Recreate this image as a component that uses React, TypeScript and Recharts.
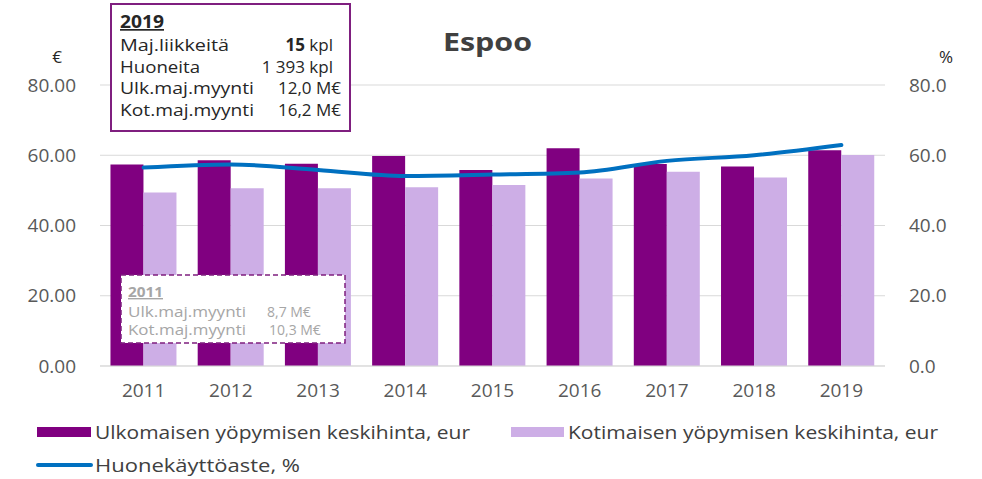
import React from 'react';
import { ComposedChart, Bar, Line, XAxis, YAxis, CartesianGrid } from 'recharts';

const years = ['2011', '2012', '2013', '2014', '2015', '2016', '2017', '2018', '2019'];
const foreignPrice = [57.4, 58.6, 57.6, 59.8, 55.8, 62.0, 57.5, 56.8, 61.4];
const domesticPrice = [49.4, 50.6, 50.6, 50.9, 51.5, 53.4, 55.3, 53.7, 60.1];
const occupancy = [56.5, 57.4, 55.8, 54.1, 54.5, 55.1, 58.4, 60.0, 62.9];
const leftTicks = [0, 20, 40, 60, 80];
const rightTicks = [0, 20, 40, 60, 80];

const seriesNames = [
  'Ulkomaisen yöpymisen keskihinta, eur',
  'Kotimaisen yöpymisen keskihinta, eur',
  'Huonekäyttöaste, %',
];

const box2019Labels = ['Maj.liikkeitä', 'Huoneita', 'Ulk.maj.myynti', 'Kot.maj.myynti'];
const box2019LabelWidths = [109, 80, 134, 134];
const box2019Values = [
  { bold: '15', rest: ' kpl' },
  { bold: '', rest: '1 393 kpl' },
  { bold: '', rest: '12,0 M€' },
  { bold: '', rest: '16,2 M€' },
];
const box2019ValueRight = [333, 333, 341, 341];
const box2011Labels = ['Ulk.maj.myynti', 'Kot.maj.myynti'];
const box2011Values = ['8,7 M€', '10,3 M€'];
const box2011ValueX = [267, 269];

const data = years.map((y, i) => ({
  year: y,
  foreign: foreignPrice[i],
  domestic: domesticPrice[i],
  occ: occupancy[i],
}));

const DARK = '#800080';
const LIGHT = '#CDAEE6';
const BLUE = '#0070C0';
const FONT = '"Open Sans", Lato, sans-serif';
const TICK = '#595959';

export default function App() {
  return (
    <div style={{ position: 'absolute', left: 0, top: 0, width: 982, height: 479, background: '#fff', fontFamily: FONT }}>
      <ComposedChart
        width={982}
        height={479}
        data={data}
        margin={{ top: 85, right: 0, bottom: 73, left: 0 }}
        barCategoryGap="12%"
        barGap={0}
      >
        <CartesianGrid vertical={false} stroke="#d9d9d9" yAxisId="left" />
        <XAxis
          dataKey="year"
          axisLine={{ stroke: '#d9d9d9' }}
          tickLine={false}
          tickSize={8}
          tickMargin={10}
          height={40}
          tick={{ fill: TICK, fontSize: 19, fontFamily: FONT }}
        />
        <YAxis
          yAxisId="left"
          orientation="left"
          width={100}
          domain={[0, 80]}
          ticks={leftTicks}
          axisLine={false}
          tickLine={false}
          tickSize={8}
          tickMargin={16}
          tickFormatter={(v: number) => v.toFixed(2)}
          tick={{ fill: TICK, fontSize: 19, fontFamily: FONT }}
        />
        <YAxis
          yAxisId="right"
          orientation="right"
          width={97}
          domain={[0, 80]}
          ticks={rightTicks}
          axisLine={false}
          tickLine={false}
          tickSize={8}
          tickMargin={16}
          tickFormatter={(v: number) => v.toFixed(1)}
          tick={{ fill: TICK, fontSize: 19, fontFamily: FONT }}
        />
        <Bar yAxisId="left" dataKey="foreign" name={seriesNames[0]} fill={DARK} isAnimationActive={false} />
        <Bar yAxisId="left" dataKey="domestic" name={seriesNames[1]} fill={LIGHT} isAnimationActive={false} />
        <Line
          yAxisId="right"
          dataKey="occ"
          name={seriesNames[2]}
          type="monotone"
          stroke={BLUE}
          strokeWidth={4}
          dot={false}
          strokeLinecap="round"
          isAnimationActive={false}
        />
      </ComposedChart>
      <svg
        width={982}
        height={479}
        style={{ position: 'absolute', left: 0, top: 0, pointerEvents: 'none' }}
        fontFamily={FONT}
      >
        {/* title */}
        <text x={443} y={51} fontSize={25} fontWeight="bold" fill="#404040" textLength={89} lengthAdjust="spacingAndGlyphs">
          Espoo
        </text>
        {/* axis unit labels */}
        <text x={57} y={63} fontSize={17} fill="#262626" textAnchor="middle">€</text>
        <text x={946} y={63} fontSize={17} fill="#262626" textAnchor="middle">%</text>

        {/* 2019 info box */}
        <rect x={111} y={4} width={239} height={127} fill="#fff" stroke="#7F1F7F" strokeWidth={2} />
        <text x={120} y={28} fontSize={17} fontWeight="bold" fill="#262626" textDecoration="underline" textLength={44} lengthAdjust="spacingAndGlyphs">2019</text>
        {box2019Labels.map((l, i) => (
          <text key={l} x={120} y={51 + i * 21.5} fontSize={17} fill="#262626" textLength={box2019LabelWidths[i]} lengthAdjust="spacingAndGlyphs">{l}</text>
        ))}
        {box2019Values.map((v, i) => (
          <text key={i} x={box2019ValueRight[i]} y={51 + i * 21.5} fontSize={17} fill="#262626" textAnchor="end">
            {v.bold ? <tspan fontWeight="bold">{v.bold}</tspan> : null}
            <tspan>{v.rest}</tspan>
          </text>
        ))}

        {/* 2011 info box */}
        <rect x={121} y={275} width={224} height={68} fill="#fff" stroke="#7F1F7F" strokeWidth={1.5} strokeDasharray="5 3" />
        <text x={128} y={297} fontSize={14} fontWeight="bold" fill="#A6A6A6" textDecoration="underline" textLength={35} lengthAdjust="spacingAndGlyphs">2011</text>
        {box2011Labels.map((l, i) => (
          <text key={l} x={128} y={317 + i * 18} fontSize={14} fill="#A6A6A6" textLength={118} lengthAdjust="spacingAndGlyphs">{l}</text>
        ))}
        {box2011Values.map((v, i) => (
          <text key={v} x={box2011ValueX[i]} y={317 + i * 18} fontSize={14} fill="#A6A6A6">{v}</text>
        ))}

        {/* legend */}
        <rect x={37} y={427} width={54} height={10} fill={DARK} />
        <text x={95} y={439} fontSize={18} fill="#404040" textLength={375} lengthAdjust="spacingAndGlyphs">{seriesNames[0]}</text>
        <rect x={511} y={427} width={53} height={10} fill={LIGHT} />
        <text x={568} y={439} fontSize={18} fill="#404040" textLength={370} lengthAdjust="spacingAndGlyphs">{seriesNames[1]}</text>
        <line x1={38} y1={465} x2={91} y2={465} stroke={BLUE} strokeWidth={4} strokeLinecap="round" />
        <text x={95} y={472} fontSize={18} fill="#404040" textLength={205} lengthAdjust="spacingAndGlyphs">{seriesNames[2]}</text>
      </svg>
    </div>
  );
}
